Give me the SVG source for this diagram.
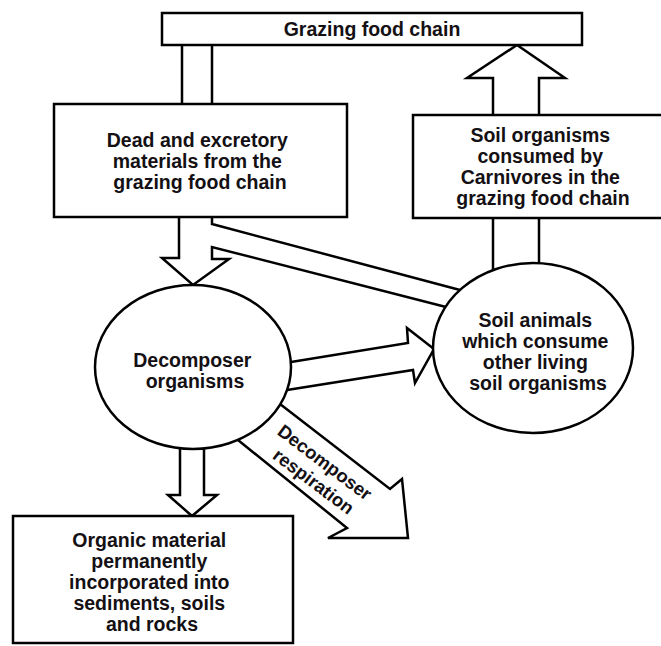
<svg xmlns="http://www.w3.org/2000/svg" width="661" height="646" viewBox="0 0 661 646">
  <style>
    .shape { fill: #ffffff; stroke: #000000; stroke-width: 2.5; stroke-linejoin: miter; }
    .flow { fill: none; stroke: #000000; stroke-width: 2.5; stroke-linejoin: miter; }
    .label { font-family: "Liberation Sans", Arial, Helvetica, sans-serif; font-size: 19.5px; font-weight: bold; fill: #141014; text-anchor: middle; }
    .small { font-size: 18.5px; }
  </style>
  <rect width="661" height="646" fill="#ffffff"/>

  <!-- connectors: broad hollow arrows and bands -->
  <g id="connectors">
    <!-- grazing food chain -> dead and excretory materials (plain band) -->
    <path class="flow" d="M182,45 V104 M212,45 V104"/>
    <!-- dead materials -> decomposers, with band branching to soil animals -->
    <path class="flow" d="M179,217 V258 H162 L193,285 L229,259 H212 V247 L446,307"/>
    <path class="flow" d="M212,217 V224 L460,290"/>
    <!-- soil animals -> soil organisms consumed by carnivores -->
    <path class="flow" d="M493,218 V270 M539,218 V263"/>
    <!-- soil organisms -> grazing food chain -->
    <path class="flow" d="M493,115 V78 H467 L517,45 L565,78 H539 V115"/>
    <!-- decomposers -> soil animals -->
    <path class="flow" d="M291,362 L408,343 L407,328 L434,349 L415,383 L413,370 L287,390"/>
    <!-- decomposer respiration -->
    <path class="flow" d="M280,404 L390,489 L402,479 L408,538 L328,538 L347,528 L238,440"/>
    <!-- decomposers -> organic material in sediments -->
    <path class="flow" d="M180,448 V495 H168 L192,516 L217,495 H204 V448"/>
    <text class="label small" transform="translate(323,469) rotate(37)">
      <tspan x="0" y="0">Decomposer</tspan>
      <tspan x="0" y="22">respiration</tspan>
    </text>
  </g>

  <g id="grazing-food-chain">
    <rect class="shape" x="162" y="13" width="420" height="32"/>
    <text class="label" x="372" y="36">Grazing food chain</text>
  </g>

  <g id="dead-materials">
    <rect class="shape" x="54" y="104" width="293" height="113"/>
    <text class="label">
      <tspan x="200" y="147">Dead and excretory</tspan>
      <tspan x="200" y="168">materials from the</tspan>
      <tspan x="200" y="189">grazing food chain</tspan>
    </text>
  </g>

  <g id="soil-organisms-consumed">
    <rect class="shape" x="413" y="115" width="260" height="103"/>
    <text class="label">
      <tspan x="543" y="142">Soil organisms</tspan>
      <tspan x="543" y="163">consumed by</tspan>
      <tspan x="543" y="184">Carnivores in the</tspan>
      <tspan x="543" y="205">grazing food chain</tspan>
    </text>
  </g>

  <g id="decomposer-organisms">
    <ellipse class="shape" cx="193" cy="367" rx="98" ry="82"/>
    <text class="label">
      <tspan x="195" y="367">Decomposer</tspan>
      <tspan x="195" y="388">organisms</tspan>
    </text>
  </g>

  <g id="soil-animals">
    <ellipse class="shape" cx="533" cy="348" rx="100" ry="85"/>
    <text class="label">
      <tspan x="538" y="327">Soil animals</tspan>
      <tspan x="538" y="348">which consume</tspan>
      <tspan x="538" y="369">other living</tspan>
      <tspan x="538" y="390">soil organisms</tspan>
    </text>
  </g>

  <g id="organic-material">
    <rect class="shape" x="13" y="516" width="280" height="127"/>
    <text class="label">
      <tspan x="152" y="547">Organic material</tspan>
      <tspan x="152" y="568">permanently</tspan>
      <tspan x="152" y="589">incorporated into</tspan>
      <tspan x="152" y="610">sediments, soils</tspan>
      <tspan x="152" y="631">and rocks</tspan>
    </text>
  </g>
</svg>
